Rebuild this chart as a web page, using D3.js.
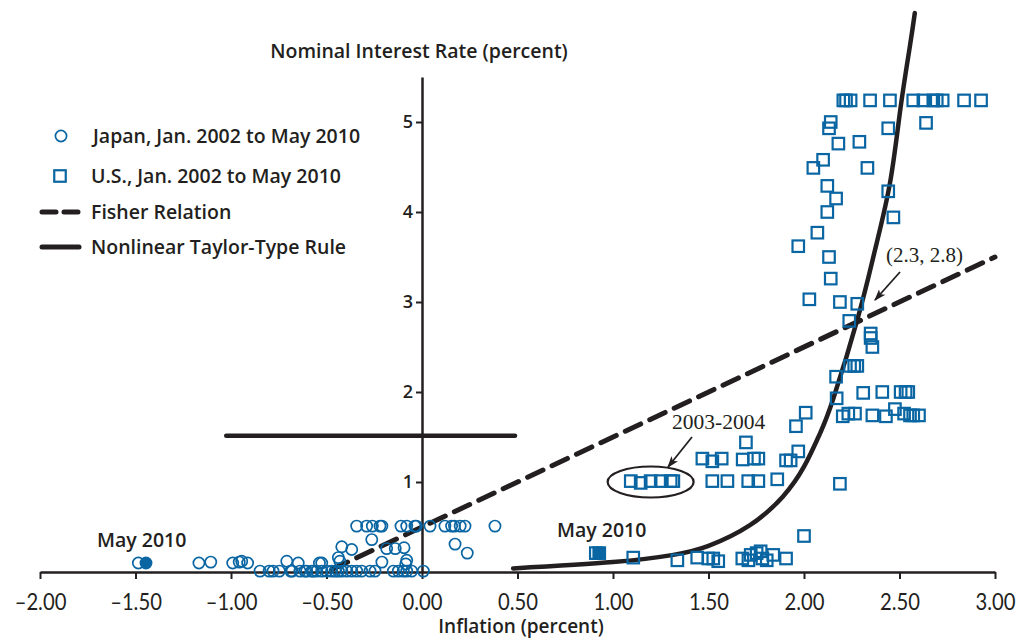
<!DOCTYPE html>
<html>
<head>
<meta charset="utf-8">
<script src="https://cdn.jsdelivr.net/npm/d3@7"></script>
<style>
  html, body { margin: 0; padding: 0; background: #fff; }
  .lbl { font-family: "Open Sans", Lato, sans-serif; font-weight: 600; fill: #231f20; }
  .tick-x { font-family: Lato, "Open Sans", sans-serif; fill: #231f20; }
  .serif { font-family: "Liberation Serif", "DejaVu Serif", serif; fill: #231f20; }
</style>
</head>
<body>
<svg id="chart" width="1017" height="639"></svg>
<script>
// Japan: inflation (x) vs nominal rate (y), Jan. 2002 to May 2010
const japanPoints = [
  [-1.485, 0.10], [-1.168, 0.10], [-1.106, 0.11], [-0.991, 0.10], [-0.957, 0.11],
  [-0.944, 0.12], [-0.913, 0.10], [-0.848, 0.01], [-0.80, 0.01], [-0.78, 0.01],
  [-0.747, 0.01], [-0.708, 0.12], [-0.687, 0.01], [-0.68, 0.01], [-0.648, 0.10],
  [-0.604, 0.01], [-0.569, 0.01], [-0.537, 0.10],
  [-0.639, 0.01], [-0.613, 0.01], [-0.577, 0.01], [-0.551, 0.01], [-0.525, 0.01],
  [-0.499, 0.01], [-0.473, 0.01], [-0.455, 0.01], [-0.438, 0.01], [-0.42, 0.01],
  [-0.394, 0.01], [-0.368, 0.01], [-0.342, 0.01], [-0.316, 0.01], [-0.272, 0.01],
  [-0.246, 0.01], [-0.15, 0.01], [-0.124, 0.01], [-0.098, 0.01], [-0.08, 0.01],
  [-0.054, 0.01], [0.007, 0.01],
  [-0.525, 0.10], [-0.438, 0.16], [-0.43, 0.12], [-0.42, 0.28], [-0.368, 0.25],
  [-0.263, 0.36], [-0.21, 0.11], [-0.185, 0.26], [-0.14, 0.26], [-0.094, 0.27],
  [-0.08, 0.13], [-0.085, 0.09], [0.173, 0.31], [0.237, 0.21],
  [-0.342, 0.51], [-0.29, 0.51], [-0.26, 0.51], [-0.22, 0.51], [-0.21, 0.51],
  [-0.11, 0.51], [-0.08, 0.51], [-0.037, 0.51], [-0.03, 0.51], [0.042, 0.51],
  [0.12, 0.51], [0.155, 0.51], [0.17, 0.51], [0.2, 0.51], [0.225, 0.51], [0.382, 0.51]
];
const japanLatest = [[-1.445, 0.10]];

// U.S.: inflation (x) vs federal funds rate (y)
const usPoints = [
  [2.206, 5.24], [2.22, 5.24], [2.244, 5.24], [2.346, 5.24], [2.45, 5.24], [2.572, 5.24],
  [2.625, 5.24], [2.677, 5.24], [2.695, 5.24], [2.726, 5.24], [2.838, 5.24], [2.927, 5.24],
  [2.14, 5.0], [2.131, 4.93], [2.441, 4.93], [2.639, 4.99], [2.18, 4.76], [2.29, 4.78],
  [2.10, 4.58], [2.049, 4.49], [2.332, 4.49], [2.122, 4.29], [2.441, 4.23], [2.168, 4.15],
  [2.122, 4.0], [2.468, 3.94], [2.07, 3.77], [1.97, 3.62], [2.131, 3.50], [2.14, 3.26],
  [2.028, 3.03], [2.188, 3.0], [2.279, 2.98], [2.237, 2.79], [2.349, 2.65], [2.349, 2.60],
  [2.358, 2.50], [2.241, 2.29], [2.263, 2.29], [2.279, 2.29], [2.168, 2.17], [2.31, 1.99],
  [2.41, 2.0], [2.506, 2.0], [2.532, 2.0], [2.546, 2.0], [2.171, 1.93], [2.009, 1.77],
  [1.958, 1.62], [2.203, 1.73], [2.232, 1.76], [2.267, 1.76], [2.358, 1.74], [2.429, 1.73],
  [2.476, 1.81], [2.524, 1.76], [2.555, 1.74], [2.572, 1.74], [2.602, 1.74],
  [1.093, 1.01], [1.145, 0.99], [1.197, 1.01], [1.250, 1.01], [1.302, 1.01], [1.316, 1.01],
  [1.468, 1.26], [1.52, 1.23], [1.569, 1.26], [1.696, 1.44], [1.679, 1.25], [1.738, 1.26],
  [1.761, 1.26], [1.906, 1.24], [1.93, 1.24], [1.97, 1.34], [1.52, 1.01], [1.599, 1.01],
  [1.708, 1.01], [1.761, 1.01], [1.86, 1.03], [2.188, 0.98],
  [0.91, 0.21], [1.106, 0.16], [1.337, 0.13], [1.441, 0.16], [1.499, 0.15], [1.525, 0.15],
  [1.551, 0.12], [1.677, 0.15], [1.709, 0.13], [1.721, 0.19], [1.752, 0.21], [1.773, 0.23],
  [1.782, 0.15], [1.805, 0.13], [1.839, 0.19], [1.906, 0.15], [2.0, 0.40]
];
const usLatest = [[0.928, 0.21]];

// lines
const fisherLine = [[-0.47, 0.03], [3.0, 3.5]];
const taylorCurve = [
  [0.477, 0.04], [1.0, 0.11], [1.316, 0.19], [1.5, 0.29], [1.717, 0.52], [1.89, 0.84],
  [2.0, 1.17], [2.084, 1.54], [2.154, 1.93], [2.284, 2.84], [2.372, 3.58], [2.45, 4.32],
  [2.505, 5.15], [2.555, 5.85], [2.58, 6.21]
];
const flatLine = [[-1.025, 1.514], [0.487, 1.514]];

const xTicks = [-2, -1.5, -1, -0.5, 0, 0.5, 1, 1.5, 2, 2.5, 3];
const yTicks = [1, 2, 3, 4, 5];

const blue = "#0a66a3";
const ink = "#231f20";

const svg = d3.select("#chart");
const x = d3.scaleLinear().domain([-2, 3]).range([40, 995]);
const y = d3.scaleLinear().domain([0, 5.5]).range([572, 77]);

// arrow head
svg.append("defs").append("marker")
  .attr("id", "arrow")
  .attr("viewBox", "0 0 10 10")
  .attr("refX", 9).attr("refY", 5)
  .attr("markerWidth", 12).attr("markerHeight", 12)
  .attr("markerUnits", "userSpaceOnUse")
  .attr("orient", "auto")
  .append("path")
  .attr("d", "M0,1.5 L10,5 L0,8.5 L2.5,5 Z")
  .attr("fill", ink);

const line = d3.line().x(d => x(d[0])).y(d => y(d[1]));

// x axis
const xAxis = svg.append("g")
  .attr("transform", `translate(0,${y(0)})`)
  .call(d3.axisBottom(x).tickValues(xTicks).tickSize(7).tickSizeOuter(0)
    .tickFormat(d => (d < 0 ? "\u2013" : "") + Math.abs(d).toFixed(2)));
xAxis.select(".domain").attr("stroke", ink).attr("stroke-width", 2.5);
xAxis.selectAll(".tick line").attr("stroke", ink).attr("stroke-width", 2);
xAxis.selectAll(".tick text")
  .attr("class", "tick-x")
  .attr("y", 22)
  .attr("font-size", 23)
  .attr("transform", "scale(0.88,1)")
  .attr("fill", ink);

// y axis at x = 0
const yAxis = svg.append("g")
  .attr("transform", `translate(${x(0)},0)`)
  .call(d3.axisLeft(y).tickValues(yTicks).tickSize(6).tickSizeOuter(0).tickFormat(d3.format("d")));
yAxis.select(".domain").attr("stroke", ink).attr("stroke-width", 2.5);
yAxis.selectAll(".tick line").attr("stroke", ink).attr("stroke-width", 2);
yAxis.selectAll(".tick text")
  .attr("class", "lbl")
  .attr("x", -9)
  .attr("font-size", 18)
  .attr("fill", ink);
svg.selectAll(".tick text").attr("font-family", null);

// axis titles
svg.append("text").attr("class", "lbl")
  .attr("x", 419).attr("y", 58).attr("text-anchor", "middle").attr("font-size", 19.5)
  .text("Nominal Interest Rate (percent)");
svg.append("text").attr("class", "lbl")
  .attr("x", 521).attr("y", 633).attr("text-anchor", "middle").attr("font-size", 19)
  .text("Inflation (percent)");

// lines
svg.append("path").datum(flatLine).attr("d", line)
  .attr("fill", "none").attr("stroke", ink).attr("stroke-width", 4.5).attr("stroke-linecap", "round");
svg.append("path").datum(fisherLine).attr("d", line)
  .attr("fill", "none").attr("stroke", ink).attr("stroke-width", 5)
  .attr("stroke-dasharray", "17 10").attr("stroke-linecap", "round");
svg.append("path").datum(taylorCurve).attr("d", line.curve(d3.curveNatural))
  .attr("fill", "none").attr("stroke", ink).attr("stroke-width", 4.5).attr("stroke-linecap", "round");

// Japan circles
const r = 5.6;
svg.append("g").selectAll("circle")
  .data(japanPoints).join("circle")
  .attr("cx", d => x(d[0])).attr("cy", d => y(d[1])).attr("r", r)
  .attr("fill", "none").attr("stroke", blue).attr("stroke-width", 1.7);
svg.append("g").selectAll("circle")
  .data(japanLatest).join("circle")
  .attr("cx", d => x(d[0])).attr("cy", d => y(d[1])).attr("r", r)
  .attr("fill", blue).attr("stroke", blue).attr("stroke-width", 1.7);

// U.S. squares
const sq = 11.5;
svg.append("g").selectAll("rect")
  .data(usPoints).join("rect")
  .attr("x", d => x(d[0]) - sq / 2).attr("y", d => y(d[1]) - sq / 2)
  .attr("width", sq).attr("height", sq)
  .attr("fill", "none").attr("stroke", blue).attr("stroke-width", 2.2);
svg.append("g").selectAll("rect")
  .data(usLatest).join("rect")
  .attr("x", d => x(d[0]) - sq / 2).attr("y", d => y(d[1]) - sq / 2)
  .attr("width", sq).attr("height", sq)
  .attr("fill", blue).attr("stroke", blue).attr("stroke-width", 2.2);

// annotations
svg.append("text").attr("class", "lbl").attr("x", 97).attr("y", 547).attr("font-size", 19.5).text("May 2010");
svg.append("text").attr("class", "lbl").attr("x", 557).attr("y", 537).attr("font-size", 19.5).text("May 2010");

svg.append("ellipse")
  .attr("cx", x(1.197)).attr("cy", y(1.0)).attr("rx", 43).attr("ry", 15.5)
  .attr("fill", "none").attr("stroke", ink).attr("stroke-width", 2.2);
svg.append("text").attr("class", "serif").attr("x", 672).attr("y", 429).attr("font-size", 21.5).text("2003-2004");
svg.append("line")
  .attr("x1", 692).attr("y1", 437).attr("x2", 668).attr("y2", 467)
  .attr("stroke", ink).attr("stroke-width", 1.8).attr("marker-end", "url(#arrow)");

svg.append("text").attr("class", "serif").attr("x", 886).attr("y", 262).attr("font-size", 21).text("(2.3, 2.8)");
svg.append("line")
  .attr("x1", 900).attr("y1", 272).attr("x2", 875).attr("y2", 300)
  .attr("stroke", ink).attr("stroke-width", 1.8).attr("marker-end", "url(#arrow)");

// legend
const legend = svg.append("g");
legend.append("circle").attr("cx", 61).attr("cy", 136).attr("r", r)
  .attr("fill", "none").attr("stroke", blue).attr("stroke-width", 1.7);
legend.append("rect").attr("x", 60 - sq / 2).attr("y", 176 - sq / 2).attr("width", sq).attr("height", sq)
  .attr("fill", "none").attr("stroke", blue).attr("stroke-width", 2.2);
legend.append("line").attr("x1", 42).attr("x2", 78).attr("y1", 212).attr("y2", 212)
  .attr("stroke", ink).attr("stroke-width", 5).attr("stroke-dasharray", "14 8").attr("stroke-linecap", "round");
legend.append("line").attr("x1", 42).attr("x2", 79).attr("y1", 247).attr("y2", 247)
  .attr("stroke", ink).attr("stroke-width", 5).attr("stroke-linecap", "round");
const legendLabels = [
  { text: "Japan, Jan. 2002 to May 2010", x: 93, y: 136 },
  { text: "U.S., Jan. 2002 to May 2010", x: 91, y: 176 },
  { text: "Fisher Relation", x: 91, y: 212 },
  { text: "Nonlinear Taylor-Type Rule", x: 91, y: 247 }
];
legend.selectAll("text").data(legendLabels).join("text")
  .attr("class", "lbl")
  .attr("x", d => d.x).attr("y", d => d.y + 7)
  .attr("font-size", 19.5)
  .text(d => d.text);
</script>
</body>
</html>
